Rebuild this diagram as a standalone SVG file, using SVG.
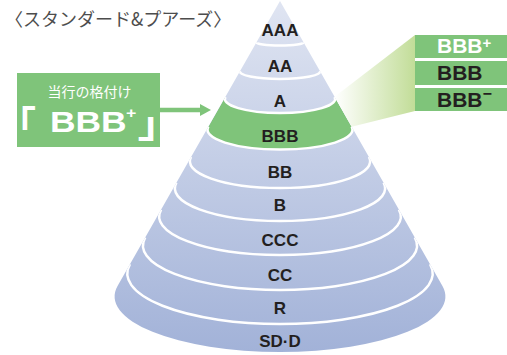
<svg xmlns="http://www.w3.org/2000/svg" width="507" height="355" viewBox="0 0 507 355">
<defs>
<linearGradient id="coneGrad" x1="0" y1="0" x2="0" y2="352" gradientUnits="userSpaceOnUse">
<stop offset="0" stop-color="#e0e5f2"/>
<stop offset="1" stop-color="#a2b2d8"/>
</linearGradient>
<linearGradient id="callGrad" x1="335" y1="0" x2="415" y2="0" gradientUnits="userSpaceOnUse">
<stop offset="0" stop-color="#ffffff"/>
<stop offset="1" stop-color="#c2dd98"/>
</linearGradient>
<clipPath id="coneClip"><path d="M280,1 L117.54,286.01 A165.41,55.54 0 1 0 442.46,286.01 Z"/></clipPath>
<marker id="arrowHead" markerUnits="userSpaceOnUse" markerWidth="12" markerHeight="14" refX="0" refY="6" orient="auto" viewBox="0 0 12 12">
<path d="M0,0 L11,6 L0,12 Z" fill="#7fc47a"/>
</marker>
<style>
.lbl{font-family:"Liberation Sans",Arial,sans-serif;font-weight:bold;font-size:17px;fill:#231f20;text-anchor:middle}
.sep{fill:none;stroke:#ffffff;stroke-width:2.5}
.green{fill:#7fc47a}
.boxtxt{font-family:"Liberation Sans",Arial,sans-serif;font-weight:bold;font-size:21px}
.jp{font-family:"Noto Sans CJK JP","Noto Sans",sans-serif}
</style>
</defs>

<text id="title" class="jp" x="5" y="26" font-size="18" fill="#4d4d4d">〈スタンダード&amp;プアーズ〉</text>

<g id="cone">
<path d="M280,1 L117.54,286.01 A165.41,55.54 0 1 0 442.46,286.01 Z" fill="url(#coneGrad)"/>
<g clip-path="url(#coneClip)">
<path id="band-BBB" class="green" d="M225.41,96.76 A55.17,14.18 0 1 0 334.59,96.76 L351.62,126.65 A72.48,19.82 0 1 1 208.38,126.65 Z"/>
<path class="sep" d="M256.54,42.17 A23.53,3.105 0 1 0 303.46,42.17"/>
<path class="sep" d="M240.21,70.81 A40.01,7.41 0 1 0 319.79,70.81"/>
<path class="sep" d="M225.41,96.76 A55.17,14.18 0 1 0 334.59,96.76"/>
<path class="sep" d="M208.38,126.65 A72.48,19.82 0 1 0 351.62,126.65"/>
<path class="sep" d="M191.10,156.96 A90.15,26.62 0 1 0 368.90,156.96"/>
<path class="sep" d="M176.42,182.72 A105.18,32.61 0 1 0 383.58,182.72"/>
<path class="sep" d="M161.13,209.54 A120.82,38.56 0 1 0 398.87,209.54"/>
<path class="sep" d="M145.25,237.4 A137.04,44.5 0 1 0 414.75,237.4"/>
<path class="sep" d="M129.95,264.24 A152.68,50.43 0 1 0 430.05,264.24"/>
</g>
</g>

<g id="label-AAA"><text class="lbl" x="280" y="35.5">AAA</text></g>
<g id="label-AA"><text class="lbl" x="280" y="72">AA</text></g>
<g id="label-A"><text class="lbl" x="280" y="107">A</text></g>
<g id="label-BBB"><text class="lbl" x="280" y="141.5">BBB</text></g>
<g id="label-BB"><text class="lbl" x="280" y="178">BB</text></g>
<g id="label-B"><text class="lbl" x="280" y="211">B</text></g>
<g id="label-CCC"><text class="lbl" x="280" y="246">CCC</text></g>
<g id="label-CC"><text class="lbl" x="280" y="280.5">CC</text></g>
<g id="label-R"><text class="lbl" x="280" y="314">R</text></g>
<g id="label-SDD"><text class="lbl" x="280" y="347">SD·D</text></g>

<g id="connectors">
<polygon points="334.59,96.76 415,35 415,111 351.62,126.65" fill="url(#callGrad)"/>
<line x1="160" y1="110" x2="200" y2="110" stroke="#7fc47a" stroke-width="4.5" marker-end="url(#arrowHead)"/>
</g>

<g id="current-rating">
<rect class="green" x="17" y="73" width="143" height="74"/>
<text class="jp" x="89.5" y="97" font-size="14" fill="#ffffff" text-anchor="middle">当行の格付け</text>
<text class="jp" x="-1" y="138" font-size="37" font-weight="bold" fill="#ffffff">「</text>
<text transform="translate(50,131.7) scale(1.18,1)" x="0" y="0" font-family="Liberation Sans, Arial, sans-serif" font-weight="bold" font-size="30" fill="#ffffff">BBB<tspan x="64.4" y="-13.7" font-size="15">+</tspan><tspan class="jp" x="74.2" y="6.3" font-size="37">」</tspan></text>
</g>

<g id="box-BBBplus">
<rect class="green" x="415" y="35" width="92" height="23"/>
<text class="boxtxt" x="437" y="53.3" fill="#ffffff">BBB<tspan font-size="15" dy="-5">+</tspan></text>
</g>
<g id="box-BBB">
<rect class="green" x="415" y="61" width="92" height="24"/>
<text class="boxtxt" x="437" y="80" fill="#231f20">BBB</text>
</g>
<g id="box-BBBminus">
<rect class="green" x="415" y="88" width="92" height="23"/>
<text class="boxtxt" x="437" y="106.7" fill="#231f20">BBB<tspan font-size="16" dy="-8">−</tspan></text>
</g>
</svg>
